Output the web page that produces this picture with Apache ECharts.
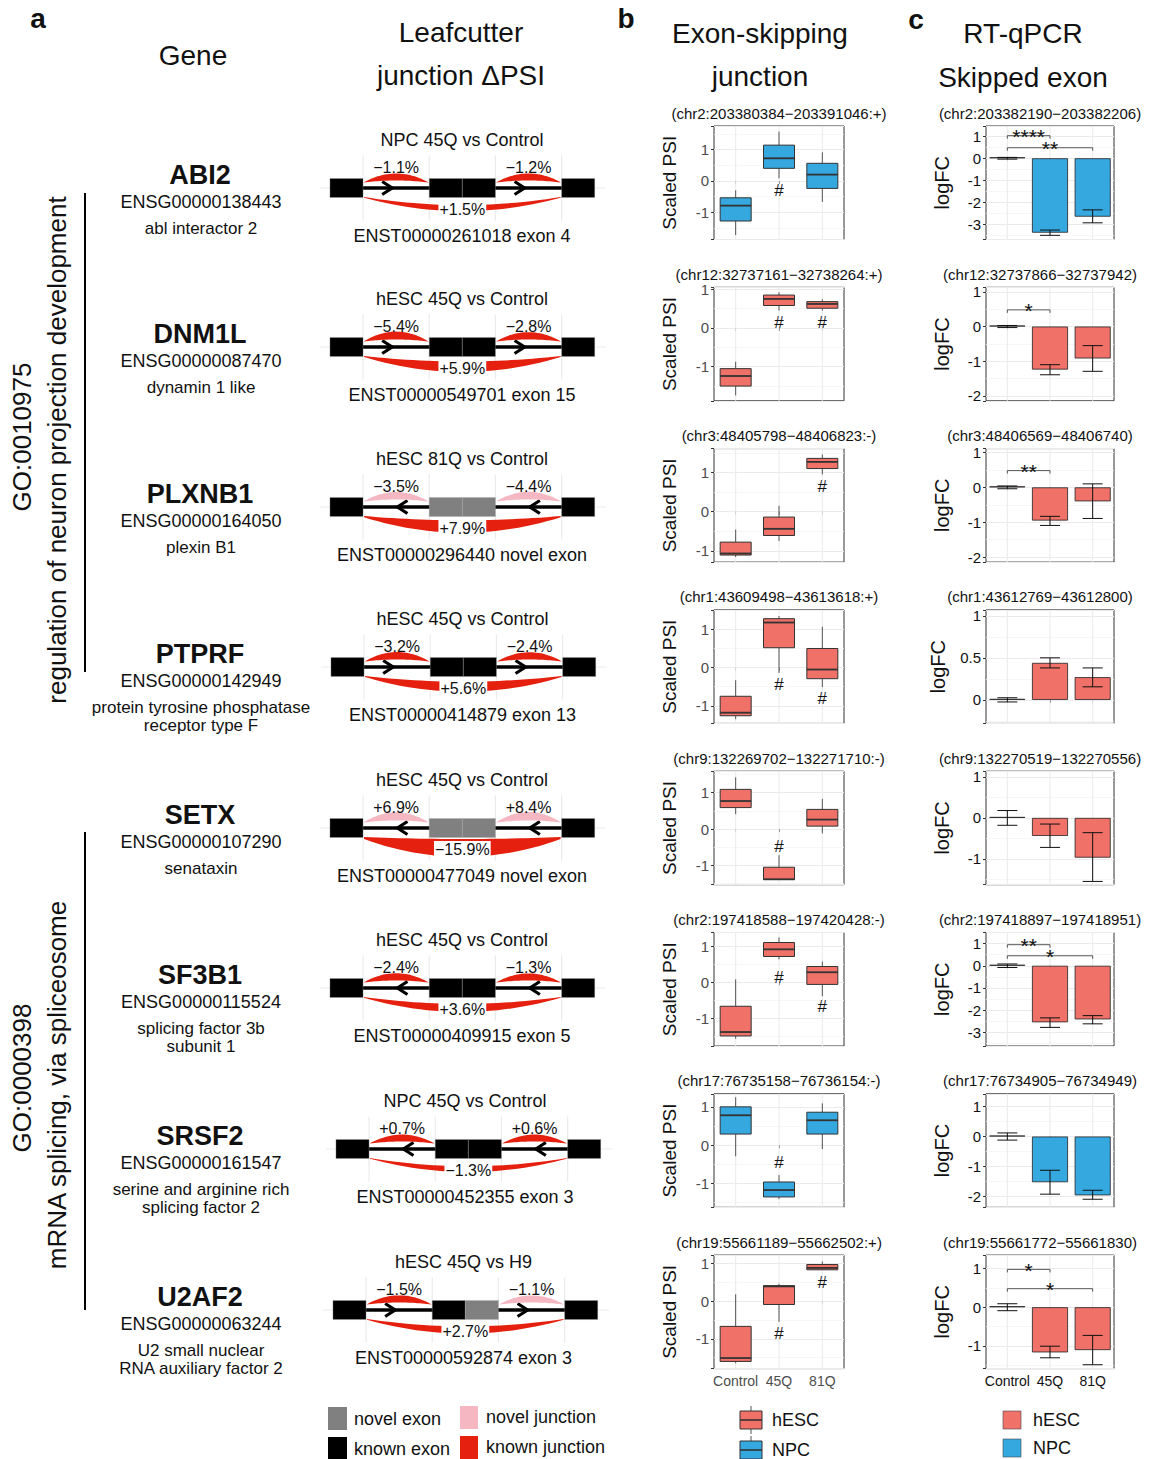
<!DOCTYPE html>
<html><head><meta charset="utf-8">
<script src="https://cdn.jsdelivr.net/npm/echarts@6/dist/echarts.min.js"></script>
<style>html,body{margin:0;padding:0;background:#fff}#c{width:1162px;height:1459px}</style>
</head><body><div id="c"></div><script>
// ---------------- DATA ----------------
const genes = ['ABI2','DNM1L','PLXNB1','PTPRF','SETX','SF3B1','SRSF2','U2AF2'];
const ensemblIds = ['ENSG00000138443','ENSG00000087470','ENSG00000164050','ENSG00000142949','ENSG00000107290','ENSG00000115524','ENSG00000161547','ENSG00000063244'];
const descriptions = ['abl interactor 2','dynamin 1 like','plexin B1','protein tyrosine phosphatase\nreceptor type F','senataxin','splicing factor 3b\nsubunit 1','serine and arginine rich\nsplicing factor 2','U2 small nuclear\nRNA auxiliary factor 2'];
const comparisons = ['NPC 45Q vs Control','hESC 45Q vs Control','hESC 81Q vs Control','hESC 45Q vs Control','hESC 45Q vs Control','hESC 45Q vs Control','NPC 45Q vs Control','hESC 45Q vs H9'];
const transcripts = ['ENST00000261018 exon 4','ENST00000549701 exon 15','ENST00000296440 novel exon','ENST00000414879 exon 13','ENST00000477049 novel exon','ENST00000409915 exon 5','ENST00000452355 exon 3','ENST00000592874 exon 3'];
const dPsiLeft  = [-1.1,-5.4,-3.5,-3.2, 6.9,-2.4, 0.7,-1.5];
const dPsiRight = [-1.2,-2.8,-4.4,-2.4, 8.4,-1.3, 0.6,-1.1];
const dPsiSkip  = [ 1.5, 5.9, 7.9, 5.6,-15.9, 3.6,-1.3, 2.7];
const leftJunctionNovel  = [0,0,1,0,1,0,0,0];
const rightJunctionNovel = [0,0,1,0,1,0,0,1];
const midExonNovel = [[0,0],[0,0],[1,1],[0,0],[1,1],[0,0],[0,0],[0,1]];
const exonModel = [[0,1],[3,4],[4,5],[7,8]];
const intronModel = [[1,3],[5,7]];
const junctionModel = [[1,3],[5,7],[1,7]];
const goTerms = ['GO:0010975','GO:0000398'];
const goNames = ['regulation of neuron projection development','mRNA splicing, via spliceosome'];

const groups = ['Control','45Q','81Q'];
const cellType = ['NPC','hESC','hESC','hESC','hESC','hESC','NPC','hESC'];
const psiTitles = ['(chr2:203380384\u2212203391046:+)','(chr12:32737161\u221232738264:+)','(chr3:48405798\u221248406823:-)','(chr1:43609498\u221243613618:+)','(chr9:132269702\u2212132271710:-)','(chr2:197418588\u2212197420428:-)','(chr17:76735158\u221276736154:-)','(chr19:55661189\u221255662502:+)'];
// [min, Q1, median, Q3, max] for Control, 45Q, 81Q
const psiBoxes = [
  [[-1.73,-1.28,-0.79,-0.54,-0.30],[0.08,0.40,0.72,1.14,1.57],[-0.67,-0.24,0.20,0.56,0.91]],
  [[-1.74,-1.50,-1.24,-1.05,-0.87],[0.45,0.58,0.75,0.85,0.92],[0.45,0.51,0.62,0.68,0.74]],
  [[-1.16,-1.11,-1.07,-0.78,-0.46],[-0.75,-0.61,-0.44,-0.14,0.15],[0.95,1.10,1.27,1.36,1.46]],
  [[-1.35,-1.26,-1.18,-0.75,-0.33],[-0.14,0.52,1.18,1.28,1.35],[-0.51,-0.29,-0.05,0.50,1.07]],
  [[0.41,0.59,0.77,1.09,1.42],[-1.39,-1.39,-1.38,-1.05,-0.72],[-0.12,0.08,0.26,0.54,0.83]],
  [[-1.58,-1.50,-1.39,-0.67,0.08],[0.64,0.72,0.92,1.11,1.25],[-0.39,-0.06,0.28,0.44,0.58]],
  [[-0.29,0.29,0.78,1.00,1.25],[-1.40,-1.35,-1.17,-0.96,-0.78],[-0.10,0.29,0.65,0.86,1.09]],
  [[-1.65,-1.60,-1.51,-0.67,0.18],[-0.55,-0.09,0.39,0.41,0.46],[0.83,0.83,0.88,0.97,1.05]]
];
// [group index, y] of '#' marks
const psiHash = [[[1,-0.30]],[[1,0.14],[2,0.14]],[[2,0.64]],[[1,-0.45],[2,-0.81]],[[1,-0.48]],[[1,0.14],[2,-0.69]],[[1,-0.44]],[[1,-0.86],[2,0.50]]];
const psiRange = [[-1.87,1.75],[-1.88,1.05],[-1.29,1.61],[-1.46,1.51],[-1.53,1.59],[-1.78,1.39],[-1.62,1.34],[-1.79,1.22]];

const qpcrTitles = ['(chr2:203382190\u2212203382206)','(chr12:32737866\u221232737942)','(chr3:48406569\u221248406740)','(chr1:43612769\u221243612800)','(chr9:132270519\u2212132270556)','(chr2:197418897\u2212197418951)','(chr17:76734905\u221276734949)','(chr19:55661772\u221255661830)'];
const logFC     = [[0,-3.39,-2.66],[0,-1.24,-0.92],[0,-0.95,-0.40],[0,0.44,0.27],[0,-0.44,-0.97],[0,-2.55,-2.42],[0,-1.53,-1.97],[0,-1.17,-1.11]];
const logFCLow  = [[-0.04,-3.51,-2.94],[-0.03,-1.39,-1.29],[-0.04,-1.09,-0.89],[-0.025,0.38,0.155],[-0.18,-0.72,-1.55],[-0.08,-2.78,-2.62],[-0.12,-1.93,-2.10],[-0.09,-1.31,-1.49]];
const logFCHigh = [[0.04,-3.27,-2.35],[0.03,-1.10,-0.55],[0.04,-0.83,0.10],[0.025,0.50,0.38],[0.18,-0.15,-0.36],[0.08,-2.35,-2.25],[0.12,-1.13,-1.80],[0.09,-1.01,-0.73]];
// [from group, to group, y, label]
const sigBrackets = [[[0,1,1.03,'****'],[0,2,0.48,'**']],[[0,1,0.48,'*']],[[0,1,0.48,'**']],[],[],[[0,1,0.95,'**'],[0,2,0.45,'*']],[],[[0,1,0.98,'*'],[0,2,0.48,'*']]];
const qpcrRange = [[-3.70,1.47],[-2.14,1.13],[-2.14,1.11],[-0.28,1.07],[-1.63,1.14],[-3.62,1.50],[-2.37,1.43],[-1.59,1.35]];
const qpcrInterval = [1,1,1,0.5,1,1,1,1];

const exonLegend = ['novel exon','known exon'];
const junctionLegend = ['novel junction','known junction'];
const cellLegend = ['hESC','NPC'];

// ---------------- STYLE / LAYOUT ----------------
const FONT = '"Liberation Sans", Arial, Helvetica, sans-serif';
const FILL = {hESC:'#EF7168', NPC:'#35A8E0'};
const RED = '#E5200E', PINK = '#F5B7C2', GREYEX = '#808080';
const GRID = '#ebebeb';
const rowCenter = [188,347,507,667,828,988,1149,1310];
const diagramShift = [0,0,0,1,0,0,6,3];
const plotTop = r => 126 + 161.3*r;
const PLOT_H = 113.5;

function txt(x,y,text,size,o){
  o = o||{};
  const al = o.align||'center', va = o.va||'middle';
  return {type:'text', x:x, y:y, rotation:o.rot||0, silent:true, z:10,
    style:{text:text, fontSize:size, fontFamily:FONT, fontWeight:o.bold?'bold':'normal', fill:o.color||'#111',
      textAlign:al, textVerticalAlign:va, align:al, verticalAlign:va, lineHeight:o.lh||undefined}};
}
function pct(v){ return (v<0?'\u2212':'+') + Math.abs(v).toFixed(1) + '%'; }
function fmtFor(iv){ return function(v){ const q=v/iv; return Math.abs(q-Math.round(q))<1e-6 ? String(+v.toFixed(2)) : ''; }; }

const grid=[], xAxis=[], yAxis=[], series=[], graphic=[];

genes.forEach(function(g,r){
  const yc = rowCenter[r];
  // ---- panel a text ----
  graphic.push(txt(200, yc-13, g, 27, {bold:true}));
  graphic.push(txt(201, yc+14, ensemblIds[r], 18));
  graphic.push(txt(201, yc+40-9, descriptions[r], 17, {va:'top', lh:18}));
  graphic.push(txt(462+diagramShift[r]/2, yc-48, comparisons[r], 18));
  graphic.push(txt(462+diagramShift[r]/2, yc+48, transcripts[r], 18));

  // ---- junction diagram ----
  const gi = grid.length;
  grid.push({left:320+diagramShift[r], top:yc-32.5, width:286, height:65, show:false});
  xAxis.push({gridIndex:gi, type:'value', min:-0.3, max:8.34, show:false});
  yAxis.push({gridIndex:gi, type:'value', min:-1.7, max:1.7, show:false});
  const strand = psiTitles[r].match(/:([+-])\)$/)[1];
  // background grid
  series.push({type:'custom', xAxisIndex:gi, yAxisIndex:gi, z:1, silent:true,
    data:[1,3,5,7].map(v=>[v,0]), encode:{x:0,y:1},
    renderItem:function(p,api){
      const cs=p.coordSys, x=api.coord([api.value(0),0])[0];
      const ch=[{type:'line',shape:{x1:x,y1:cs.y,x2:x,y2:cs.y+cs.height},style:{stroke:GRID,lineWidth:1.2}}];
      if(p.dataIndex===0){ const y=api.coord([0,0])[1]; ch.push({type:'line',shape:{x1:cs.x,y1:y,x2:cs.x+cs.width,y2:y},style:{stroke:GRID,lineWidth:1.2}}); }
      return {type:'group',children:ch};
    }});
  // introns with direction arrows
  series.push({type:'custom', xAxisIndex:gi, yAxisIndex:gi, z:2, silent:true,
    data:intronModel.map(d=>[d[0],0,d[1]]), encode:{x:0,y:1},
    renderItem:function(p,api){
      const a=api.coord([api.value(0),0]), b=api.coord([api.value(2),0]);
      const mid=(api.value(0)+api.value(2))/2;
      const tip=api.coord([strand==='+'? mid-0.12 : mid+0.04, 0]);
      const dx = strand==='+' ? -10 : 10;
      return {type:'group',children:[
        {type:'line',shape:{x1:a[0]-2,y1:a[1],x2:b[0]+2,y2:b[1]},style:{stroke:'#000',lineWidth:3.5}},
        {type:'polyline',shape:{points:[[tip[0]+dx,tip[1]-6.5],[tip[0],tip[1]],[tip[0]+dx,tip[1]+6.5]]},style:{stroke:'#000',lineWidth:3.2,fill:null,lineJoin:'miter'}}
      ]};
    }});
  // exons
  const exNov=[0,midExonNovel[r][0],midExonNovel[r][1],0];
  series.push({type:'custom', xAxisIndex:gi, yAxisIndex:gi, z:3, silent:true,
    data:exonModel.map((e,i)=>[e[0],0,e[1],exNov[i]]), encode:{x:0,y:1},
    renderItem:function(p,api){
      const a=api.coord([api.value(0),0.5]), b=api.coord([api.value(2),-0.5]);
      return {type:'rect',shape:{x:a[0],y:a[1],width:b[0]-a[0],height:b[1]-a[1]},
        style:{fill:api.value(3)?GREYEX:'#000',stroke:'rgba(170,170,170,0.55)',lineWidth:0.6}};
    }});
  // junction arcs
  const jd=[dPsiLeft[r],dPsiRight[r],dPsiSkip[r]];
  const jn=[leftJunctionNovel[r],rightJunctionNovel[r],0];
  series.push({type:'custom', xAxisIndex:gi, yAxisIndex:gi, z:4, silent:true,
    data:junctionModel.map((j,i)=>[j[0],0,j[1],jd[i],i<2?1:-1,jn[i]]), encode:{x:0,y:1},
    renderItem:function(p,api){
      const a=api.coord([api.value(0),0]), b=api.coord([api.value(2),0]);
      const d=Math.abs(api.value(3)), up=api.value(4)>0, yc0=a[1];
      let y0,rin,rout,e,x0=a[0]+1,x1=b[0]-1;
      if(up){ y0=yc0-5.5; rin=2; rout=8.5+0.2*d; e=0.3; }
      else { y0=yc0+9; rin=Math.max(2,9-0.6*d); rout=13+0.3*d; e=0.5+0.1*d; }
      const s=up?-1:1, N=28, pts=[];
      for(let k=0;k<=N;k++){const t=k/N; pts.push([x0+(x1-x0)*t, y0+s*(e+4*t*(1-t)*rout)]);}
      for(let k=N;k>=0;k--){const t=k/N; pts.push([x0+(x1-x0)*t, y0+s*(4*t*(1-t)*rin)]);}
      const xm=(a[0]+b[0])/2;
      const lab={type:'text',x:xm,y:yc0+(up?-21:21),z2:5,style:{text:pct(api.value(3)),fontSize:16,fontFamily:FONT,fill:'#111',
          textAlign:'center',textVerticalAlign:'middle',align:'center',verticalAlign:'middle'}};
      if(!up){ lab.style.backgroundColor='#fff'; lab.style.padding=[0,1,0,1]; }
      return {type:'group',children:[
        {type:'polygon',shape:{points:pts},style:{fill:api.value(5)?PINK:RED}}, lab]};
    }});

  // ---- panel b: box plots ----
  const top = plotTop(r);
  const fill = FILL[cellType[r]];
  const bi = grid.length;
  grid.push({left:714, top:top, width:130, height:PLOT_H, show:true, borderColor:'#333', borderWidth:1, backgroundColor:'#fff'});
  xAxis.push({gridIndex:bi, type:'category', data:groups, boundaryGap:true,
    axisLine:{show:false}, axisTick:{show:true, alignWithLabel:true, length:3, lineStyle:{color:'#333'}},
    axisLabel:{show:r===7, color:'#4d4d4d', fontSize:14, fontFamily:FONT, margin:5, interval:0}, splitLine:{show:false}});
  yAxis.push({gridIndex:bi, type:'value', min:psiRange[r][0], max:psiRange[r][1], minInterval:1, maxInterval:1, splitNumber:3,
    axisLine:{show:false}, axisTick:{show:true, length:3, lineStyle:{color:'#333'}},
    axisLabel:{color:'#4d4d4d', fontSize:15, fontFamily:FONT, margin:5, formatter:fmtFor(1)},
    splitLine:{show:true, lineStyle:{color:GRID, width:1.1}},
    minorTick:{show:false, splitNumber:2}, minorSplitLine:{show:true, lineStyle:{color:'#f3f3f3', width:0.7}},
    name:'Scaled PSI', nameLocation:'middle', nameGap:35, nameTextStyle:{fontSize:19, fontFamily:FONT, color:'#111'}});
  series.push({type:'custom', xAxisIndex:bi, yAxisIndex:bi, z:1, silent:true,
    data:groups.map((gname,i)=>[i,0]), encode:{x:0,y:1},
    renderItem:function(p,api){ const cs=p.coordSys, x=api.coord([api.value(0),0])[0];
      return {type:'line',shape:{x1:x,y1:cs.y,x2:x,y2:cs.y+cs.height},style:{stroke:GRID,lineWidth:1.1}}; }});
  series.push({type:'custom', name:cellType[r], xAxisIndex:bi, yAxisIndex:bi, z:3, silent:true,
    data:psiBoxes[r].map((b,i)=>[i].concat(b)), encode:{x:0,y:[1,2,3,4,5]},
    renderItem:function(p,api){
      const i=api.value(0), w=31;
      const Y=k=>api.coord([i,api.value(k)])[1];
      const x=api.coord([i,0])[0];
      const yMin=Y(1), yQ1=Y(2), yMed=Y(3), yQ3=Y(4), yMax=Y(5);
      return {type:'group',children:[
        {type:'line',shape:{x1:x,y1:yMax,x2:x,y2:yQ3},style:{stroke:'#555',lineWidth:1}},
        {type:'line',shape:{x1:x,y1:yQ1,x2:x,y2:yMin},style:{stroke:'#555',lineWidth:1}},
        {type:'rect',shape:{x:x-w/2,y:yQ3,width:w,height:yQ1-yQ3},style:{fill:fill,stroke:'#333',lineWidth:1}},
        {type:'line',shape:{x1:x-w/2,y1:yMed,x2:x+w/2,y2:yMed},style:{stroke:'#333',lineWidth:1.8}}
      ]};
    }});
  series.push({type:'custom', xAxisIndex:bi, yAxisIndex:bi, z:4, silent:true,
    data:psiHash[r], encode:{x:0,y:1},
    renderItem:function(p,api){ const c=api.coord([api.value(0),api.value(1)]);
      return {type:'text',x:c[0],y:c[1],style:{text:'#',fontSize:17,fontFamily:FONT,fill:'#111',textAlign:'center',textVerticalAlign:'middle',align:'center',verticalAlign:'middle'}}; }});
  graphic.push(txt(779, top-13, psiTitles[r], 15));

  // ---- panel c: RT-qPCR bars ----
  const ci = grid.length;
  const iv = qpcrInterval[r];
  grid.push({left:986, top:top, width:128, height:PLOT_H, show:true, borderColor:'#333', borderWidth:1, backgroundColor:'#fff'});
  xAxis.push({gridIndex:ci, type:'category', data:groups, boundaryGap:true,
    axisLine:{show:false}, axisTick:{show:true, alignWithLabel:true, length:3, lineStyle:{color:'#333'}},
    axisLabel:{show:r===7, color:'#111', fontSize:14, fontFamily:FONT, margin:5, interval:0}, splitLine:{show:false}});
  yAxis.push({gridIndex:ci, type:'value', min:qpcrRange[r][0], max:qpcrRange[r][1], minInterval:iv, maxInterval:iv, splitNumber:3,
    axisLine:{show:false}, axisTick:{show:true, length:3, lineStyle:{color:'#333'}},
    axisLabel:{color:'#111', fontSize:15, fontFamily:FONT, margin:5, formatter:fmtFor(iv)},
    splitLine:{show:true, lineStyle:{color:GRID, width:1.1}},
    minorTick:{show:false, splitNumber:2}, minorSplitLine:{show:true, lineStyle:{color:'#f3f3f3', width:0.7}},
    name:'logFC', nameLocation:'middle', nameGap:r===3?38:34, nameTextStyle:{fontSize:20, fontFamily:FONT, color:'#111'}});
  series.push({type:'custom', xAxisIndex:ci, yAxisIndex:ci, z:1, silent:true,
    data:groups.map((gname,i)=>[i,0]), encode:{x:0,y:1},
    renderItem:function(p,api){ const cs=p.coordSys, x=api.coord([api.value(0),0])[0];
      return {type:'line',shape:{x1:x,y1:cs.y,x2:x,y2:cs.y+cs.height},style:{stroke:GRID,lineWidth:1.1}}; }});
  series.push({type:'bar', name:cellType[r], xAxisIndex:ci, yAxisIndex:ci, z:2, silent:true, data:logFC[r], barWidth:36, barMinHeight:1,
    itemStyle:{color:fill, borderColor:'#222', borderWidth:0.8}});
  series.push({type:'custom', xAxisIndex:ci, yAxisIndex:ci, z:3, silent:true,
    data:groups.map((gname,i)=>[i,logFCLow[r][i],logFCHigh[r][i]]), encode:{x:0,y:[1,2]},
    renderItem:function(p,api){ const i=api.value(0); const lo=api.coord([i,api.value(1)]), hi=api.coord([i,api.value(2)]); const x=lo[0], w=10;
      return {type:'group',children:[
        {type:'line',shape:{x1:x,y1:lo[1],x2:x,y2:hi[1]},style:{stroke:'#111',lineWidth:1}},
        {type:'line',shape:{x1:x-w,y1:lo[1],x2:x+w,y2:lo[1]},style:{stroke:'#111',lineWidth:1}},
        {type:'line',shape:{x1:x-w,y1:hi[1],x2:x+w,y2:hi[1]},style:{stroke:'#111',lineWidth:1}}]}; }});
  series.push({type:'custom', xAxisIndex:ci, yAxisIndex:ci, z:4, silent:true,
    data:sigBrackets[r].map(s=>[s[0],s[2],s[1]]), encode:{x:0,y:1},
    renderItem:function(p,api){ const a=api.coord([api.value(0),api.value(1)]), b=api.coord([api.value(2),api.value(1)]);
      const lab=sigBrackets[r][p.dataIndex][3];
      return {type:'group',children:[
        {type:'polyline',shape:{points:[[a[0],a[1]+3],[a[0],a[1]],[b[0],b[1]],[b[0],b[1]+3]]},style:{stroke:'#444',lineWidth:0.9,fill:null}},
        {type:'text',x:(a[0]+b[0])/2,y:a[1]+1,style:{text:lab,fontSize:21,lineHeight:10,fontFamily:FONT,fill:'#111',textAlign:'center',textVerticalAlign:'middle',align:'center',verticalAlign:'middle'}}]}; }});
  graphic.push(txt(1040, top-13, qpcrTitles[r], 15));
});

// ---- headers ----
graphic.push(txt(38,18,'a',28,{bold:true}));
graphic.push(txt(626,18,'b',28,{bold:true}));
graphic.push(txt(916,19,'c',28,{bold:true}));
graphic.push(txt(193,55,'Gene',28));
graphic.push(txt(461,54,'Leafcutter\njunction \u0394PSI',28,{lh:43}));
graphic.push(txt(760,55,'Exon-skipping\njunction',28,{lh:43}));
graphic.push(txt(1023,55,'RT-qPCR\nSkipped exon',28,{lh:44}));
// ---- GO annotations ----
graphic.push(txt(22,437,goTerms[0],26,{rot:Math.PI/2}));
graphic.push(txt(57,450,goNames[0],26,{rot:Math.PI/2}));
graphic.push(txt(22,1078,goTerms[1],26,{rot:Math.PI/2}));
graphic.push(txt(57,1085,goNames[1],26,{rot:Math.PI/2}));
graphic.push({type:'line',silent:true,shape:{x1:85,y1:193,x2:85,y2:672},style:{stroke:'#000',lineWidth:2}});
graphic.push({type:'line',silent:true,shape:{x1:85,y1:832,x2:85,y2:1310},style:{stroke:'#000',lineWidth:2}});
// ---- legends ----
graphic.push({type:'rect',silent:true,shape:{x:328,y:1407,width:19,height:23},style:{fill:GREYEX}});
graphic.push({type:'rect',silent:true,shape:{x:328,y:1437,width:19,height:23},style:{fill:'#000'}});
graphic.push(txt(354,1419,exonLegend[0],18,{align:'left'}));
graphic.push(txt(354,1449,exonLegend[1],18,{align:'left'}));
graphic.push({type:'rect',silent:true,shape:{x:460,y:1406,width:18,height:23},style:{fill:PINK}});
graphic.push({type:'rect',silent:true,shape:{x:460,y:1436,width:18,height:23},style:{fill:RED}});
graphic.push(txt(486,1417,junctionLegend[0],18,{align:'left'}));
graphic.push(txt(486,1447,junctionLegend[1],18,{align:'left'}));
[1420,1450].forEach(function(y,k){
  const f=FILL[cellLegend[k]];
  graphic.push({type:'line',silent:true,shape:{x1:751,y1:y-14,x2:751,y2:y+14},style:{stroke:'#555',lineWidth:1}});
  graphic.push({type:'rect',silent:true,shape:{x:740,y:y-9,width:22,height:18},style:{fill:f,stroke:'#333',lineWidth:1}});
  graphic.push({type:'line',silent:true,shape:{x1:740,y1:y,x2:762,y2:y},style:{stroke:'#333',lineWidth:1.6}});
  graphic.push(txt(772,y,cellLegend[k],18,{align:'left'}));
});
[1420,1448].forEach(function(y,k){
  graphic.push({type:'rect',silent:true,shape:{x:1003,y:y-9,width:18,height:18},style:{fill:FILL[cellLegend[k]],stroke:'#444',lineWidth:0.6}});
  graphic.push(txt(1033,y,cellLegend[k],18,{align:'left'}));
});

const chart = echarts.init(document.getElementById('c'), null, {renderer:'svg', width:1162, height:1459});
chart.setOption({animation:false, backgroundColor:'#fff', grid:grid, xAxis:xAxis, yAxis:yAxis, series:series, graphic:{elements:graphic}});
</script></body></html>
